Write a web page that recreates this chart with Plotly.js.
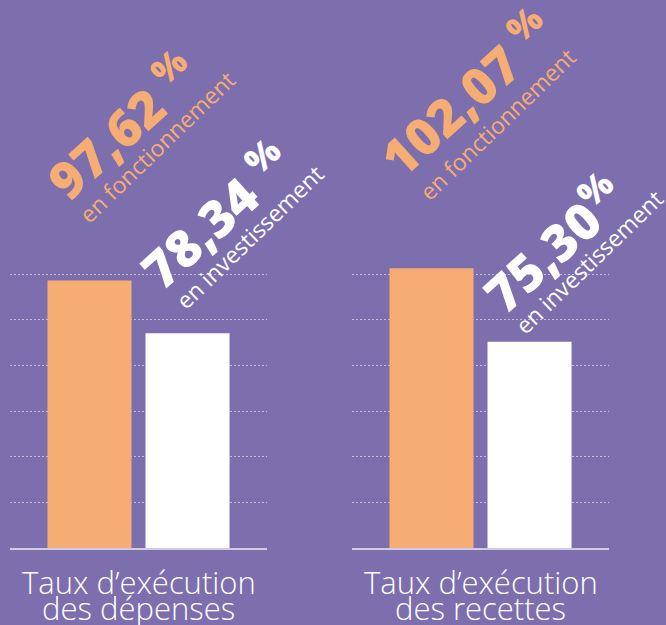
<!DOCTYPE html>
<html>
<head>
<meta charset="utf-8">
<script src="https://cdn.plot.ly/plotly-3.0.1.min.js"></script>
<style>
  html, body { margin: 0; padding: 0; background: #7d6eae; }
  #chart { width: 666px; height: 625px; }
</style>
</head>
<body>
<div id="chart"></div>
<script>
// ---- Data ----
const categories = ["Taux d’exécution<br>des dépenses", "Taux d’exécution<br>des recettes"];
const fonctionnement = [97.62, 102.07];
const investissement = [78.34, 75.30];
const fonctLabels = ["97,62 <sup>%</sup>", "102,07 <sup>%</sup>"];
const investLabels = ["78,34 <sup>%</sup>", "75,30<sup>%</sup>"];
const fonctSub = ["en fonctionnement", "en fonctionnement"];
const investSub = ["en investissement", "en investissement"];
const gridTicks = [16.667, 33.333, 50, 66.667, 83.333, 100];

// ---- Style ----
const BG = "#7d6eae";
const ORANGE = "#f5ad74";
const WHITE = "#ffffff";
const xaxes = ["x", "x2"];

const traces = [];
categories.forEach((cat, i) => {
  traces.push({
    type: "bar", x: [cat], y: [fonctionnement[i]], xaxis: xaxes[i], yaxis: "y",
    marker: { color: ORANGE }, hoverinfo: "skip", showlegend: false
  });
  traces.push({
    type: "bar", x: [cat], y: [investissement[i]], xaxis: xaxes[i], yaxis: "y",
    marker: { color: WHITE }, hoverinfo: "skip", showlegend: false
  });
});

// annotation offsets (pixels) relative to the bar tops / category centres
const numShift = [[-17, 156], [-15, 175]];
const fSubShift = [[18, 134], [17, 144]];
const invNumShift = [[77, 119], [72, 99]];
const iSubShift = [[111, 96], [108, 80]];

const NUMFONT = { family: "Open Sans", size: 51, weight: 800 };

const annotations = [];
categories.forEach((cat, i) => {
  const xr = xaxes[i];
  annotations.push({
    xref: xr, yref: "y", x: cat, y: fonctionnement[i], text: fonctLabels[i],
    showarrow: false, textangle: -42, xanchor: "center", yanchor: "middle",
    xshift: numShift[i][0], yshift: numShift[i][1],
    font: Object.assign({}, NUMFONT, { color: ORANGE })
  });
  annotations.push({
    xref: xr, yref: "y", x: cat, y: fonctionnement[i], text: fonctSub[i],
    showarrow: false, textangle: -44, xanchor: "center", yanchor: "middle",
    xshift: fSubShift[i][0], yshift: fSubShift[i][1],
    font: { family: "Open Sans", size: 23, color: ORANGE }
  });
  annotations.push({
    xref: xr, yref: "y", x: cat, y: investissement[i], text: investLabels[i],
    showarrow: false, textangle: -42, xanchor: "center", yanchor: "middle",
    xshift: invNumShift[i][0], yshift: invNumShift[i][1],
    font: Object.assign({}, NUMFONT, { color: WHITE })
  });
  annotations.push({
    xref: xr, yref: "y", x: cat, y: investissement[i], text: investSub[i],
    showarrow: false, textangle: -44, xanchor: "center", yanchor: "middle",
    xshift: iSubShift[i][0], yshift: iSubShift[i][1],
    font: { family: "Open Sans", size: 23, color: WHITE }
  });
  // category labels, one annotation per line
  cat.split("<br>").forEach((line, k) => {
    annotations.push({
      xref: xr, yref: "paper", x: cat, y: 0, text: line,
      showarrow: false, xanchor: "center", yanchor: "middle",
      yshift: -34 - 26 * k,
      font: { family: "Open Sans", size: 31, color: WHITE, weight: 300 }
    });
  });
});

const xbase = {
  type: "category", range: [-0.5, 0.5], anchor: "y",
  showticklabels: false, ticks: "", showgrid: false, zeroline: false,
  showline: true, linecolor: "rgba(255,255,255,0.65)", linewidth: 2,
  fixedrange: true
};

const layout = {
  width: 666, height: 625,
  margin: { l: 0, r: 0, t: 0, b: 77, pad: 0 },
  paper_bgcolor: BG, plot_bgcolor: BG,
  barmode: "group", bargap: 0.237, bargroupgap: 0.143,
  showlegend: false,
  xaxis: Object.assign({}, xbase, { domain: [10 / 666, 267 / 666] }),
  xaxis2: Object.assign({}, xbase, { domain: [352 / 666, 609 / 666] }),
  yaxis: {
    range: [0, 200], anchor: "x", showticklabels: false, ticks: "",
    tickvals: gridTicks, showgrid: true, gridcolor: "rgba(255,255,255,0.55)",
    gridwidth: 1, griddash: "2px,2px", zeroline: false, showline: false, fixedrange: true
  },
  annotations: annotations
};

Plotly.newPlot("chart", traces, layout, { displayModeBar: false, staticPlot: true });
</script>
</body>
</html>
